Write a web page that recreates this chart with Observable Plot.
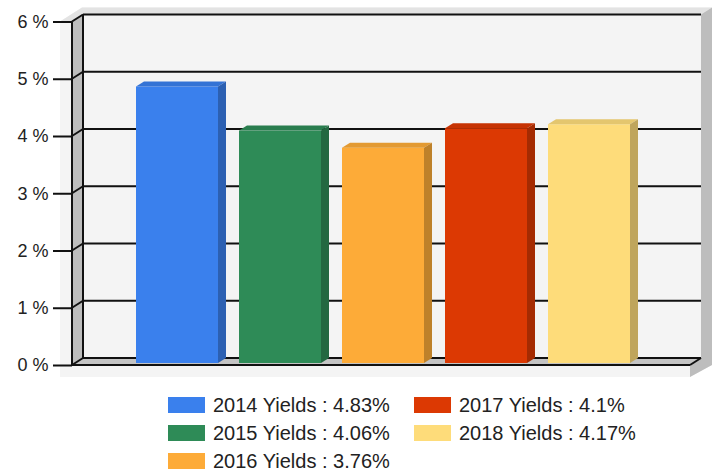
<!DOCTYPE html>
<html><head><meta charset="utf-8">
<script src="https://cdn.jsdelivr.net/npm/d3@7"></script>
<script src="https://cdn.jsdelivr.net/npm/@observablehq/plot@0.6"></script>
<style>
body{margin:0;background:#fff;font-family:"Liberation Sans",Arial,sans-serif;}
#legend{display:grid;grid-auto-flow:column;grid-template-rows:repeat(3,28px);grid-template-columns:246px auto;padding-left:168px;padding-top:6px;font-size:20px;line-height:1;color:#222}
.item{display:flex;align-items:center;white-space:nowrap}
.sw{width:37px;height:16px;margin-right:8px;flex:none}
</style></head><body><div id="chart"></div><div id="legend"></div>
<script>
const years = ["2014", "2015", "2016", "2017", "2018"];
const yields = [4.83, 4.06, 3.76, 4.1, 4.17];
const yTicks = [0, 1, 2, 3, 4, 5, 6];
const colors = ["#3a80ed", "#2e8b57", "#fdab38", "#dc3903", "#fedc7a"];

const data = years.map((year, i) => ({year, value: yields[i]}));
const WX = 11, WY = 7, BX = 8, BY = 5, BDY = -2;
const PAD_IN = 0.204;

function mk(g) {
  return {
    poly(pts, fill) { g.append("polygon").attr("points", pts.map(p => p.join(",")).join(" ")).attr("fill", fill); },
    line(a, b, w = 2, c = "#111") { g.append("line").attr("x1", a[0]).attr("y1", a[1]).attr("x2", b[0]).attr("y2", b[1]).attr("stroke", c).attr("stroke-width", w); }
  };
}

const frame = (index, scales, values, dim) => {
  const y = scales.y;
  const L = dim.marginLeft, R = dim.width - dim.marginRight;
  const y0 = y(0), yT = y(d3.max(yTicks));
  const g = d3.create("svg:g");
  const {poly, line} = mk(g);
  poly([[L - 12, yT], [L - 12 + 2 * WX, yT - 2 * WY], [R + 2 * WX, yT - 2 * WY], [R + 2 * WX, y0], [R, y0 + 12], [L - 12, y0 + 12]], "#f4f4f4");
  poly([[L - 12, yT], [L - 12 + 2 * WX, yT - 2 * WY], [R + 2 * WX, yT - 2 * WY], [R + WX, yT - WY], [L + WX, yT - WY], [L, yT]], "#e3e3e3");
  poly([[R + WX, yT - WY], [R + 2 * WX, yT - 2 * WY], [R + 2 * WX, y0], [R, y0 + 12], [R, y0], [R + WX, y0 - WY]], "#bdbdbd");
  poly([[L, yT], [L + WX, yT - WY], [L + WX, y0 - WY], [L, y0]], "#bdbdbd");
  poly([[L, y0], [L + WX, y0 - WY], [R + WX, y0 - WY], [R, y0]], "#c4c4c4");
  for (const t of yTicks) {
    const yy = y(t);
    line([L + WX, yy - WY], [R + WX, yy - WY], 2);
    line([L, yy], [L + WX, yy - WY], 2);
  }
  line([L, yT], [L, y0], 2);
  line([L + WX, yT - WY], [L + WX, y0 - WY], 2);
  line([L, y0], [R, y0], 2);
  line([R, y0], [R + WX, y0 - WY], 2);
  return g.node();
};

const faces = (index, scales, values, dim) => {
  const x = scales.x, y = scales.y;
  let bw = (typeof x.bandwidth === "number") ? x.bandwidth
         : (typeof x.bandwidth === "function") ? x.bandwidth()
         : (scales.scales && scales.scales.x && scales.scales.x.bandwidth);
  if (!(bw > 0)) bw = (x(years[1]) - x(years[0])) * (1 - PAD_IN);
  const g = d3.create("svg:g");
  const {poly} = mk(g);
  data.forEach(d => {
    const x0 = x(d.year), x1 = x0 + bw;
    const yt = y(d.value) + BDY, yb = y(0) + BDY;
    const c = d3.color(scales.color(d.year));
    poly([[x0, yt], [x0 + BX, yt - BY], [x1 + BX, yt - BY], [x1, yt]], c.darker(0.3).formatHex());
    poly([[x1, yt], [x1 + BX, yt - BY], [x1 + BX, yb - BY], [x1, yb]], c.darker(0.8).formatHex());
  });
  return g.node();
};

const chart = Plot.plot({
  width: 717,
  height: 385,
  marginLeft: 72,
  marginRight: 27,
  marginTop: 21.5,
  marginBottom: 20,
  style: {fontFamily: "'Liberation Sans', Arial, sans-serif", fontSize: "18px", color: "#222", background: "transparent"},
  x: {domain: years, type: "band", paddingInner: PAD_IN, paddingOuter: 0.6, align: 0.52, axis: null},
  y: {domain: [0, 6]},
  color: {domain: years, range: colors},
  marks: [
    frame,
    Plot.barY(data, {x: "year", y: "value", fill: "year", dy: BDY}),
    faces,
    Plot.axisY({ticks: yTicks, tickFormat: d => d + " %", tickSize: 19, tickPadding: 5, strokeWidth: 2, stroke: "#111", label: null})
  ]
});
document.getElementById("chart").appendChild(chart);

const legend = document.getElementById("legend");
data.forEach((d, i) => {
  const item = document.createElement("div");
  item.className = "item";
  const sw = document.createElement("span");
  sw.className = "sw";
  sw.style.background = colors[i];
  const t = document.createElement("span");
  t.textContent = `${d.year} Yields : ${d.value}%`;
  item.appendChild(sw); item.appendChild(t);
  legend.appendChild(item);
});
</script></body></html>
